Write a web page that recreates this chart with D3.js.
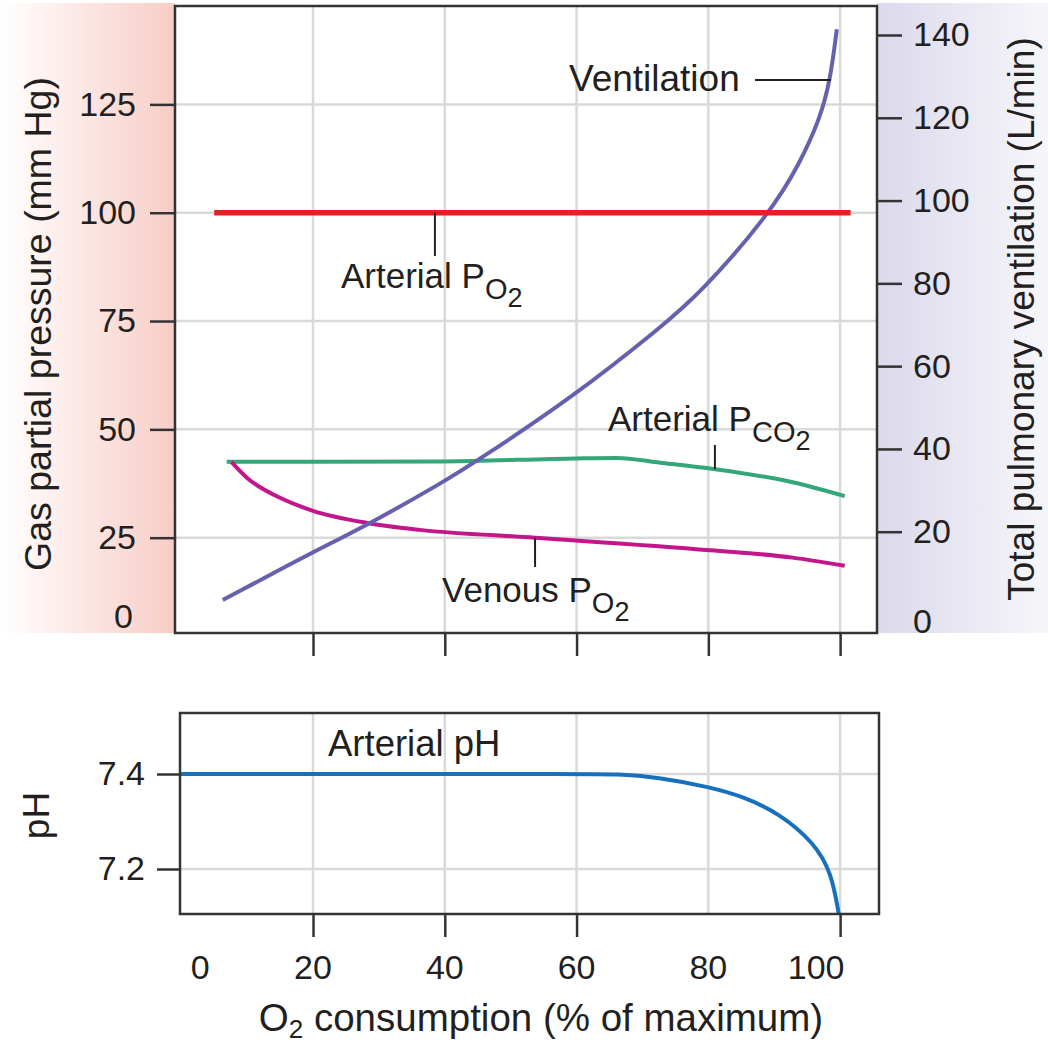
<!DOCTYPE html>
<html>
<head>
<meta charset="utf-8">
<script src="https://cdnjs.cloudflare.com/ajax/libs/d3/7.8.5/d3.min.js"></script>
<style>
  body { margin: 0; background: #fff; }
  svg text { font-family: "Liberation Sans", Arial, Helvetica, sans-serif; fill: #231f20; }
</style>
</head>
<body>
<div id="chart"></div>
<script>
// data (x = O2 consumption, % of max)
const xTicksTop = [20, 40, 60, 80, 100];
const xTicksPh = [20, 40, 60, 100];
const xLabels = [0, 20, 40, 60, 80, 100];
const gasTicks = [0, 25, 50, 75, 100, 125];
const ventTicks = [0, 20, 40, 60, 80, 100, 120, 140];
const phTicks = [7.2, 7.4];

const arterialPo2X = [5, 101.6];
const arterialPo2Y = [100, 100];

const ventX = [6.3, 20, 28.6, 40, 44.6, 59.5, 72.7, 78.8, 89.4, 93.9, 97, 98.5, 99.5];
const ventY = [3.5, 15.1, 21.9, 32.2, 36.8, 52.6, 69.3, 77.6, 97, 109, 120, 129, 141.4];

const pco2X = [6.9, 20, 40, 60, 66.1, 72.7, 81, 92.8, 100.7];
const pco2Y = [42.5, 42.5, 42.6, 43.3, 43.4, 42.3, 40.8, 37.8, 34.6];

const venX = [7.6, 10, 15, 20, 28.2, 36.2, 53.7, 80.3, 92.8, 100.7];
const venY = [42.5, 38.8, 34.2, 31.2, 28.4, 26.8, 25.0, 22.1, 20.4, 18.5];

const phX = [-0.2, 30, 60, 66.5, 72.2, 80.1, 85.4, 90.8, 96.1, 98.7, 99.8];
const phY = [7.4, 7.4, 7.4, 7.4, 7.393, 7.373, 7.352, 7.317, 7.255, 7.192, 7.105];

const W = 1048, H = 1045;
const gasBox = {left: 175, right: 877, top: 6, bottom: 633};
const phBox = {left: 180, right: 879, top: 713, bottom: 914};

const svg = d3.select('#chart').append('svg')
  .attr('width', W).attr('height', H);

const x = d3.scaleLinear().domain([0, 100]).range([181.25, 840.1]);
const yGas = d3.scaleLinear().domain([0, 125]).range([646, 104.4]);
const yVent = d3.scaleLinear().domain([0, 140]).range([614.5, 35]);
const yPh = d3.scaleLinear().domain([7.2, 7.4]).range([869, 774]);

const zip = (a, b) => a.map((v, i) => [v, b[i]]);

// side bands
const defs = svg.append('defs');
const gl = defs.append('linearGradient').attr('id', 'gLeft');
gl.append('stop').attr('offset', '0%').attr('stop-color', '#ffffff');
gl.append('stop').attr('offset', '100%').attr('stop-color', '#f8cdc6');
const gr = defs.append('linearGradient').attr('id', 'gRight');
gr.append('stop').attr('offset', '0%').attr('stop-color', '#dbd9eb');
gr.append('stop').attr('offset', '100%').attr('stop-color', '#f6f6fa');

svg.append('rect').attr('x', 0).attr('y', 3).attr('width', gasBox.left).attr('height', gasBox.bottom - 3)
  .attr('fill', 'url(#gLeft)');
svg.append('rect').attr('x', gasBox.right).attr('y', 3).attr('width', W - gasBox.right).attr('height', gasBox.bottom - 3)
  .attr('fill', 'url(#gRight)');
svg.append('rect').attr('x', gasBox.left).attr('y', gasBox.top)
  .attr('width', gasBox.right - gasBox.left).attr('height', gasBox.bottom - gasBox.top).attr('fill', '#fff');

const gridColor = '#d9d9d9';

// top grid
const gTop = svg.append('g');
gTop.selectAll('line.v').data(xTicksTop).join('line')
  .attr('x1', d => x(d)).attr('x2', d => x(d))
  .attr('y1', gasBox.top).attr('y2', gasBox.bottom)
  .attr('stroke', gridColor).attr('stroke-width', 2.5);
gTop.selectAll('line.h').data(gasTicks.filter(d => d > 0)).join('line')
  .attr('x1', gasBox.left).attr('x2', gasBox.right)
  .attr('y1', d => yGas(d)).attr('y2', d => yGas(d))
  .attr('stroke', gridColor).attr('stroke-width', 2.5);

// ph grid
const gPh = svg.append('g');
gPh.selectAll('line.v').data(xTicksTop).join('line')
  .attr('x1', d => x(d)).attr('x2', d => x(d))
  .attr('y1', phBox.top).attr('y2', phBox.bottom)
  .attr('stroke', gridColor).attr('stroke-width', 2.5);
gPh.selectAll('line.h').data(phTicks).join('line')
  .attr('x1', phBox.left).attr('x2', phBox.right)
  .attr('y1', d => yPh(d)).attr('y2', d => yPh(d))
  .attr('stroke', gridColor).attr('stroke-width', 2.5);

// lines
const lineGas = d3.line().x(d => x(d[0])).y(d => yGas(d[1])).curve(d3.curveMonotoneX);
const lineVent = d3.line().x(d => x(d[0])).y(d => yVent(d[1])).curve(d3.curveBasis);
const linePh = d3.line().x(d => x(d[0])).y(d => yPh(d[1])).curve(d3.curveBasis);

svg.append('path').attr('d', lineGas(zip(pco2X, pco2Y)))
  .attr('fill', 'none').attr('stroke', '#33a67a').attr('stroke-width', 4);
svg.append('path').attr('d', lineGas(zip(venX, venY)))
  .attr('fill', 'none').attr('stroke', '#c3168b').attr('stroke-width', 4);
svg.append('path').attr('d', lineVent(zip(ventX, ventY)))
  .attr('fill', 'none').attr('stroke', '#6561ae').attr('stroke-width', 4);
svg.append('path').attr('d', lineGas(zip(arterialPo2X, arterialPo2Y)))
  .attr('fill', 'none').attr('stroke', '#e61f27').attr('stroke-width', 5.5);
svg.append('path').attr('d', linePh(zip(phX, phY)))
  .attr('fill', 'none').attr('stroke', '#1670bd').attr('stroke-width', 4);

// frames
svg.append('rect').attr('x', gasBox.left).attr('y', gasBox.top)
  .attr('width', gasBox.right - gasBox.left).attr('height', gasBox.bottom - gasBox.top)
  .attr('fill', 'none').attr('stroke', '#333').attr('stroke-width', 2.5);
svg.append('rect').attr('x', phBox.left).attr('y', phBox.top)
  .attr('width', phBox.right - phBox.left).attr('height', phBox.bottom - phBox.top)
  .attr('fill', 'none').attr('stroke', '#333').attr('stroke-width', 2.5);

// axes
const styleAxis = g => {
  g.select('.domain').remove();
  g.selectAll('.tick line').attr('stroke', '#333').attr('stroke-width', 2.5);
  g.selectAll('.tick text').style('font-size', '34px').attr('fill', '#231f20')
    .style('font-family', '"Liberation Sans", Arial, sans-serif');
};

const axL = svg.append('g').attr('transform', `translate(${gasBox.left},0)`)
  .call(d3.axisLeft(yGas).tickValues(gasTicks).tickSize(25).tickPadding(14))
  .call(styleAxis);
axL.selectAll('.tick').filter(d => d === 0).each(function() {
  d3.select(this).select('line').remove();
  d3.select(this).select('text').attr('y', -29).attr('x', -42);
});

const axR = svg.append('g').attr('transform', `translate(${gasBox.right},0)`)
  .call(d3.axisRight(yVent).tickValues(ventTicks).tickSize(25).tickPadding(11))
  .call(styleAxis);
axR.selectAll('.tick').filter(d => d === 0).each(function() {
  d3.select(this).select('line').remove();
  d3.select(this).select('text').attr('y', 7);
});

svg.append('g').attr('transform', `translate(0,${gasBox.bottom})`)
  .call(d3.axisBottom(x).tickValues(xTicksTop).tickSize(23).tickFormat(''))
  .call(styleAxis);

svg.append('g').attr('transform', `translate(${phBox.left},0)`)
  .call(d3.axisLeft(yPh).tickValues(phTicks).tickSize(23).tickPadding(12).tickFormat(d3.format('.1f')))
  .call(styleAxis);

svg.append('g').attr('transform', `translate(0,${phBox.bottom})`)
  .call(d3.axisBottom(x).tickValues(xTicksPh).tickSize(23).tickFormat(''))
  .call(styleAxis);

// bottom tick labels (end labels nudged inward as in the figure)
const labelNudge = {0: 19, 100: -24};
svg.append('g').selectAll('text').data(xLabels).join('text')
  .attr('x', d => x(d) + (labelNudge[d] || 0))
  .attr('y', 979)
  .attr('text-anchor', 'middle')
  .style('font-size', '34px')
  .text(d => d);

// axis titles
svg.append('text')
  .attr('transform', `translate(51,${(78 + 570) / 2}) rotate(-90)`)
  .attr('text-anchor', 'middle').style('font-size', '37.5px')
  .text('Gas partial pressure (mm Hg)');
svg.append('text')
  .attr('transform', `translate(1034,${(30 + 608) / 2}) rotate(-90)`)
  .attr('text-anchor', 'middle').style('font-size', '37px')
  .text('Total pulmonary ventilation (L/min)');
svg.append('text')
  .attr('transform', `translate(49,${(phBox.top + phBox.bottom) / 2 + 2}) rotate(-90)`)
  .attr('text-anchor', 'middle').style('font-size', '37px')
  .text('pH');

const xt = svg.append('text').attr('x', 541).attr('y', 1031)
  .attr('text-anchor', 'middle').style('font-size', '38.5px');
xt.append('tspan').text('O');
xt.append('tspan').attr('dy', 7).style('font-size', '26px').text('2');
xt.append('tspan').attr('dy', -7).text(' consumption (% of maximum)');

// annotations
const leader = (x1, y1, x2, y2) => svg.append('line')
  .attr('x1', x1).attr('y1', y1).attr('x2', x2).attr('y2', y2)
  .attr('stroke', '#231f20').attr('stroke-width', 2);

const subLabel = (tx, ty, main, sub) => {
  const t = svg.append('text').attr('x', tx).attr('y', ty).style('font-size', '35px');
  t.append('tspan').text(main);
  t.append('tspan').attr('dy', 11).style('font-size', '29px').text(sub);
  t.append('tspan').attr('dy', 8).style('font-size', '27px').text('2');
  return t;
};

// Ventilation
svg.append('text').attr('x', 569).attr('y', 91).style('font-size', '37px').text('Ventilation');
leader(755, 80, 831, 80);

// Arterial PO2
leader(x(38.5), yGas(100), x(38.5), 256);
subLabel(341, 288, 'Arterial P', 'O');

// Arterial PCO2
leader(x(81), 445, x(81), yGas(40.8));
subLabel(608, 431, 'Arterial P', 'CO');

// Venous PO2
leader(x(53.7), yGas(25.0), x(53.7), 567);
subLabel(442, 602, 'Venous P', 'O');

// Arterial pH
svg.append('text').attr('x', 328).attr('y', 756).style('font-size', '36.5px').text('Arterial pH');
</script>
</body>
</html>
